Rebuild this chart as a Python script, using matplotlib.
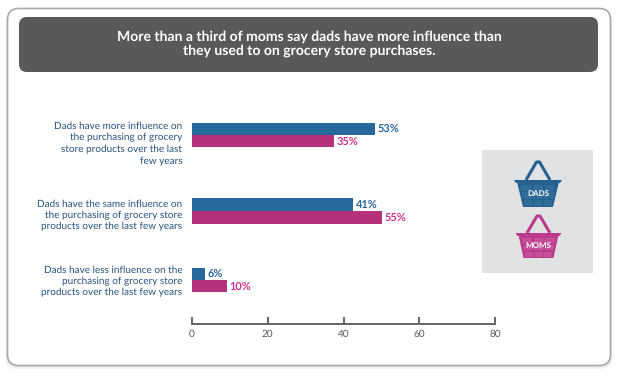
import matplotlib
matplotlib.use('Agg')
import matplotlib.pyplot as plt
from matplotlib.patches import FancyBboxPatch, Polygon, Rectangle

plt.rcParams['font.family'] = ['Lato', 'DejaVu Sans']
plt.rcParams['text.hinting'] = 'no_hinting'
plt.rcParams['text.hinting_factor'] = 1

W, H = 623, 378

# Data (bars are drawn shorter/longer than their printed labels in the original)
categories = [
    'Dads have more influence on\nthe purchasing of grocery\nstore products over the last\nfew years',
    'Dads have the same influence on\nthe purchasing of grocery store\nproducts over the last few years',
    'Dads have less influence on the\npurchasing of grocery store\nproducts over the last few years',
]
dads_bars = [48.3, 42.5, 3.4]
moms_bars = [37.5, 50.2, 9.2]
dads_labels = ['53%', '41%', '6%']
moms_labels = ['35%', '55%', '10%']
x_ticks = [0, 20, 40, 60, 80]
title = 'More than a third of moms say dads have more influence than\nthey used to on grocery store purchases.'

BLUE = '#27689d'
PINK = '#b5327a'
GREY = '#58595b'

fig = plt.figure(figsize=(W / 100, H / 100), dpi=100, facecolor='white')

# overlay in pixel coordinates for the card, header and baskets
bg = fig.add_axes([0, 0, 1, 1])
bg.set_xlim(0, W)
bg.set_ylim(H, 0)
bg.axis('off')

for i, c in enumerate(['#f4f4f4', '#eeeeee', '#e8e8e8']):
    bg.add_patch(FancyBboxPatch((7 - 1, 10 + 3 - i), 606, 356, boxstyle='round,pad=0,rounding_size=11',
                                fc=c, ec='none'))
bg.add_patch(FancyBboxPatch((7.5, 8.5), 603, 357, boxstyle='round,pad=0,rounding_size=11',
                            fc='white', ec='#a9a9a9', lw=1.2))
bg.add_patch(FancyBboxPatch((19, 17), 579, 55, boxstyle='round,pad=0,rounding_size=8',
                            fc=GREY, ec='none'))
bg.text(309, 44, title, color='white', fontsize=10.1, fontweight='bold', ha='center', va='center',
        linespacing=1.12)

bg.add_patch(Rectangle((482, 150), 111, 123, fc='#e1e2e4', ec='none'))


def basket(cx, rim, bottom, apex, half_rim, half_base, color, light, label):
    # handle
    bg.plot([cx - half_rim * 0.5, cx - 1.5, cx + 1.5, cx + half_rim * 0.5],
            [rim, apex, apex, rim], color=color, lw=2.2, solid_joinstyle='round', solid_capstyle='butt')
    # rim and body
    bg.add_patch(Polygon([(cx - half_rim, rim), (cx + half_rim, rim), (cx + half_rim - 2, rim + 3),
                          (cx - half_rim + 2, rim + 3)], fc=color, ec='none'))
    bg.add_patch(Polygon([(cx - half_rim + 3, rim + 2), (cx + half_rim - 3, rim + 2),
                          (cx + half_base, bottom), (cx - half_base, bottom)], fc=color, ec='none'))
    # lighter basket cells
    depth = bottom - rim - 4
    for row in range(3):
        y0 = rim + 4 + row * depth / 3
        frac = (y0 - rim) / (bottom - rim)
        half = half_rim - 3 - (half_rim - 3 - half_base) * frac - 2
        cw = (2 * half) / 3
        for col in range(3):
            bg.add_patch(Rectangle((cx - half + col * cw + 0.8, y0 + 0.6), cw - 1.6, depth / 3 - 1.4,
                                   fc=light, ec='none'))
    bg.text(cx, (rim + bottom) / 2 + 0.5, label, color='white', fontsize=6, fontweight='bold',
            ha='center', va='center')


basket(538, 180, 207, 162, 24, 15, '#27608f', '#2f6c98', 'DADS')
basket(538.5, 233, 258, 216, 23, 15, '#bd3a8c', '#c64f9a', 'MOMS')

# chart axes: x 192-495 px, y in pixels from the top of the chart to the axis line
top, base = 100, 324
ax = fig.add_axes([192 / W, 1 - base / H, (495 - 192) / W, (base - top) / H])
ax.patch.set_alpha(0)
ax.set_xlim(0, 80)
ax.set_ylim(base, top)

group_y = [134.5, 210.5, 279.5]
label_y = [143.5, 215, 281.5]
blue_h = [11.5, 12.5, 11.5]
pink_h = [12, 13, 12]

for y, ly, cat, d, m, dl, ml, bh, ph in zip(group_y, label_y, categories, dads_bars, moms_bars,
                                            dads_labels, moms_labels, blue_h, pink_h):
    ax.barh(y - bh / 2, d, height=bh, color=BLUE)
    ax.barh(y + ph / 2, m, height=ph, color=PINK)
    ax.text(d + 0.8, y - bh / 2, dl, color=BLUE, fontsize=7.6, fontweight='bold', va='center')
    ax.text(m + 0.6, y + ph / 2 + 1, ml, color='#c9358a', fontsize=7.6, fontweight='bold', va='center')
    ax.text(-2.6, ly, cat, color='#27527d', fontsize=6.9, ha='right', va='center', linespacing=1.3)

for s in ['top', 'left', 'right']:
    ax.spines[s].set_visible(False)
ax.spines['bottom'].set_color('#636466')
ax.spines['bottom'].set_linewidth(1.4)
ax.set_yticks([])
ax.set_xticks(x_ticks)
ax.tick_params(axis='x', direction='in', length=5, width=1.4, color='#636466',
               labelcolor='#58595b', labelsize=7, pad=4)

fig.savefig('out.png', dpi=100)
